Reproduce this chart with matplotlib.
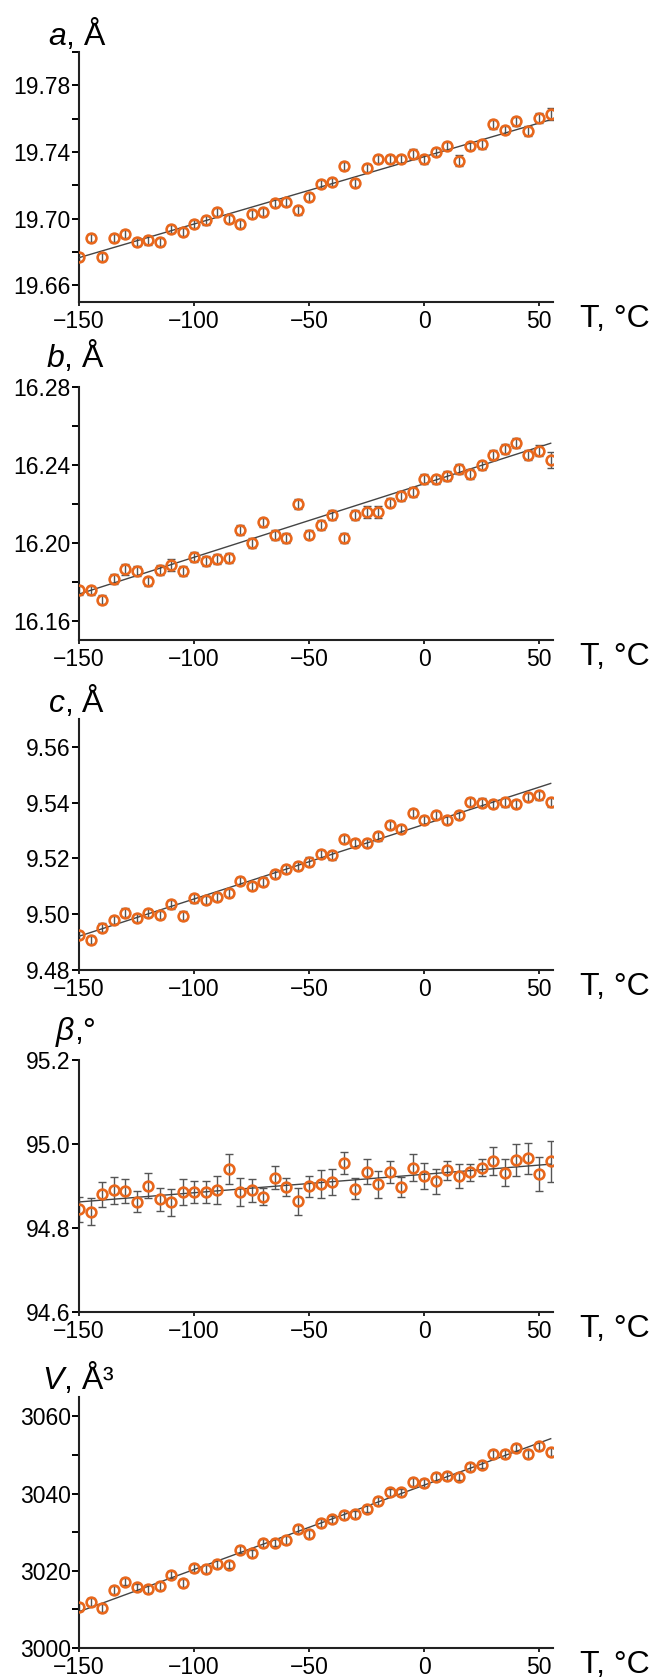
import numpy as np
import matplotlib
matplotlib.use("Agg")
import matplotlib.pyplot as plt
from matplotlib.ticker import FixedLocator, FixedFormatter

plt.rcParams["font.family"] = ["Liberation Sans", "DejaVu Sans"]
plt.rcParams["mathtext.fontset"] = "custom"
plt.rcParams["mathtext.rm"] = "Liberation Sans"
plt.rcParams["mathtext.it"] = "Liberation Sans:italic"

# temperature, degC
T = np.arange(-150, 56, 5)

a_val = [19.677, 19.6885, 19.677, 19.6885, 19.691, 19.686, 19.687, 19.686, 19.6937, 19.692,
         19.697, 19.699, 19.704, 19.700, 19.697, 19.703, 19.704, 19.7095, 19.710, 19.705,
         19.713, 19.721, 19.722, 19.7317, 19.7214, 19.7305, 19.736, 19.736, 19.736, 19.7386,
         19.7356, 19.740, 19.7438, 19.7349, 19.7438, 19.7446, 19.7566, 19.7533, 19.7584, 19.7527,
         19.7604, 19.7628]
a_err = [0.0025, 0.0025, 0.0025, 0.0025, 0.0025, 0.0025, 0.0025, 0.0025, 0.0025, 0.0025,
         0.0025, 0.0025, 0.0025, 0.0025, 0.0025, 0.0025, 0.0025, 0.0025, 0.0025, 0.0025,
         0.0025, 0.0025, 0.0025, 0.0025, 0.0025, 0.0025, 0.0025, 0.0025, 0.0025, 0.003,
         0.0025, 0.0025, 0.0025, 0.0035, 0.0025, 0.0025, 0.0025, 0.0025, 0.0025, 0.003,
         0.003, 0.0037]

b_val = [16.1755, 16.1755, 16.1708, 16.1813, 16.1863, 16.1855, 16.1801, 16.186, 16.1886, 16.1855,
         16.1927, 16.1905, 16.1915, 16.192, 16.2067, 16.1998, 16.2104, 16.2041, 16.2025, 16.2199,
         16.2042, 16.2091, 16.2144, 16.2025, 16.2142, 16.2156, 16.2156, 16.2206, 16.224, 16.2259,
         16.2327, 16.2325, 16.2342, 16.2377, 16.2352, 16.2397, 16.245, 16.248, 16.2511, 16.2449,
         16.2473, 16.2426]
b_err = [0.0025, 0.0025, 0.0025, 0.0025, 0.003, 0.0025, 0.0025, 0.0025, 0.003, 0.0025,
         0.0025, 0.0025, 0.0025, 0.0025, 0.0025, 0.0025, 0.0025, 0.0025, 0.0025, 0.0025,
         0.0025, 0.0025, 0.0025, 0.0025, 0.0025, 0.003, 0.003, 0.0025, 0.0025, 0.0025,
         0.0025, 0.0025, 0.0025, 0.0025, 0.0025, 0.0025, 0.0025, 0.0025, 0.0025, 0.0025,
         0.003, 0.004]

c_val = [9.4926, 9.4907, 9.4952, 9.498, 9.5006, 9.4987, 9.5005, 9.4998, 9.5035, 9.4995,
         9.5057, 9.5051, 9.5061, 9.5075, 9.512, 9.5102, 9.5117, 9.5145, 9.5163, 9.5173,
         9.5189, 9.5215, 9.5211, 9.5269, 9.5256, 9.5255, 9.5279, 9.5319, 9.5305, 9.5362,
         9.5337, 9.5356, 9.5338, 9.5356, 9.5402, 9.540, 9.5395, 9.5401, 9.5396, 9.5421,
         9.5426, 9.5401]
c_err = [0.0015] * 42

beta_val = [94.845, 94.839, 94.880, 94.890, 94.888, 94.862, 94.901, 94.868, 94.861, 94.886,
            94.886, 94.886, 94.890, 94.940, 94.886, 94.890, 94.875, 94.920, 94.898, 94.864,
            94.899, 94.904, 94.909, 94.954, 94.894, 94.934, 94.904, 94.933, 94.898, 94.944,
            94.924, 94.911, 94.937, 94.924, 94.933, 94.944, 94.959, 94.932, 94.961, 94.966,
            94.929, 94.959]
beta_err = [0.030, 0.032, 0.030, 0.032, 0.028, 0.025, 0.029, 0.027, 0.032, 0.031,
            0.027, 0.027, 0.033, 0.036, 0.033, 0.027, 0.020, 0.028, 0.022, 0.032,
            0.024, 0.033, 0.031, 0.026, 0.026, 0.030, 0.032, 0.026, 0.024, 0.031,
            0.031, 0.029, 0.023, 0.028, 0.020, 0.020, 0.033, 0.033, 0.038, 0.037,
            0.040, 0.049]

V_val = [3010.65, 3011.9, 3010.3, 3015.0, 3017.2, 3015.7, 3015.3, 3016.0, 3019.0, 3016.85,
         3020.7, 3020.5, 3021.8, 3021.6, 3025.5, 3024.5, 3027.2, 3027.3, 3028.0, 3030.9,
         3029.5, 3032.3, 3033.3, 3034.4, 3034.6, 3036.1, 3038.0, 3040.3, 3040.3, 3042.9,
         3042.8, 3044.3, 3044.5, 3044.4, 3046.9, 3047.5, 3050.2, 3050.3, 3051.9, 3050.3,
         3052.3, 3050.8]
V_err = [1.0] * 42

# linear fits, values read at T = -150 and T = 55
fit_T = [-150, 55]
a_fit = [19.6766, 19.7594]
b_fit = [16.1736, 16.2511]
c_fit = [9.4921, 9.5469]
beta_fit = [94.862, 94.952]
V_fit = [3009.4, 3054.2]

panels = [
    # title, values, errors, fit, ylim, ticks, labelled ticks, fmt, title x/baseline px, axes top/bottom px
    (r"$a$, Å", a_val, a_err, a_fit, (19.65, 19.80), np.arange(19.66, 19.81, 0.02),
     [19.66, 19.70, 19.74, 19.78], "{:.2f}", (48, 45), (52, 302)),
    (r"$b$, Å", b_val, b_err, b_fit, (16.15, 16.28), np.arange(16.16, 16.29, 0.02),
     [16.16, 16.20, 16.24, 16.28], "{:.2f}", (46, 367), (387, 640)),
    (r"$c$, Å", c_val, c_err, c_fit, (9.48, 9.57), np.arange(9.48, 9.57, 0.02),
     [9.48, 9.50, 9.52, 9.54, 9.56], "{:.2f}", (48, 712), (719, 970)),
    (r"$\mathit{β}$,°", beta_val, beta_err, beta_fit, (94.6, 95.2), np.arange(94.6, 95.21, 0.2),
     [94.6, 94.8, 95.0, 95.2], "{:.1f}", (55, 1040), (1060, 1312)),
    (r"$V$, Å³", V_val, V_err, V_fit, (3000, 3065), np.arange(3000, 3061, 10),
     [3000, 3020, 3040, 3060], "{:.0f}", (42, 1389), (1397, 1648)),
]

W, H = 656, 1680
fig = plt.figure(figsize=(W / 100, H / 100), dpi=100)
orange = "#e8671c"
left, right = 79, 553

for title, vals, errs, fit, ylim, ticks, labelled, fmt, (tx, ty), (top, bot) in panels:
    ax = fig.add_axes([left / W, 1 - bot / H, (right - left) / W, (bot - top) / H])
    ax.errorbar(T, vals, yerr=errs, fmt="none", ecolor="#555555", elinewidth=1.0,
                capsize=3, capthick=1.0, zorder=2)
    ax.plot(fit_T, fit, color="#444444", lw=1.0, zorder=3)
    ax.plot(T, vals, "o", ms=7, mfc="none", mec=orange, mew=1.9, zorder=4)

    ax.set_xlim(-150, 56)
    ax.set_ylim(*ylim)
    ax.set_xticks([-150, -100, -50, 0, 50])
    ax.yaxis.set_major_locator(FixedLocator(ticks))
    labels = [fmt.format(t) if any(abs(t - l) < 1e-6 for l in labelled) else "" for t in ticks]
    ax.yaxis.set_major_formatter(FixedFormatter(labels))
    ax.tick_params(axis="y", length=5, width=1.4, pad=1, labelsize=16.5)
    ax.tick_params(axis="x", length=3, width=1.2, pad=2.5, labelsize=16.5)
    for s in ("top", "right"):
        ax.spines[s].set_visible(False)
    for s in ("left", "bottom"):
        ax.spines[s].set_linewidth(1.5)
        ax.spines[s].set_color("#222222")
    ax.patch.set_alpha(0)

    fig.text(tx / W, 1 - ty / H, title, fontsize=23, va="baseline", ha="left")
    fig.text(580 / W, 1 - (bot + 25) / H, "T, °C", fontsize=23, va="baseline", ha="left")

fig.savefig("out.png", dpi=100)
